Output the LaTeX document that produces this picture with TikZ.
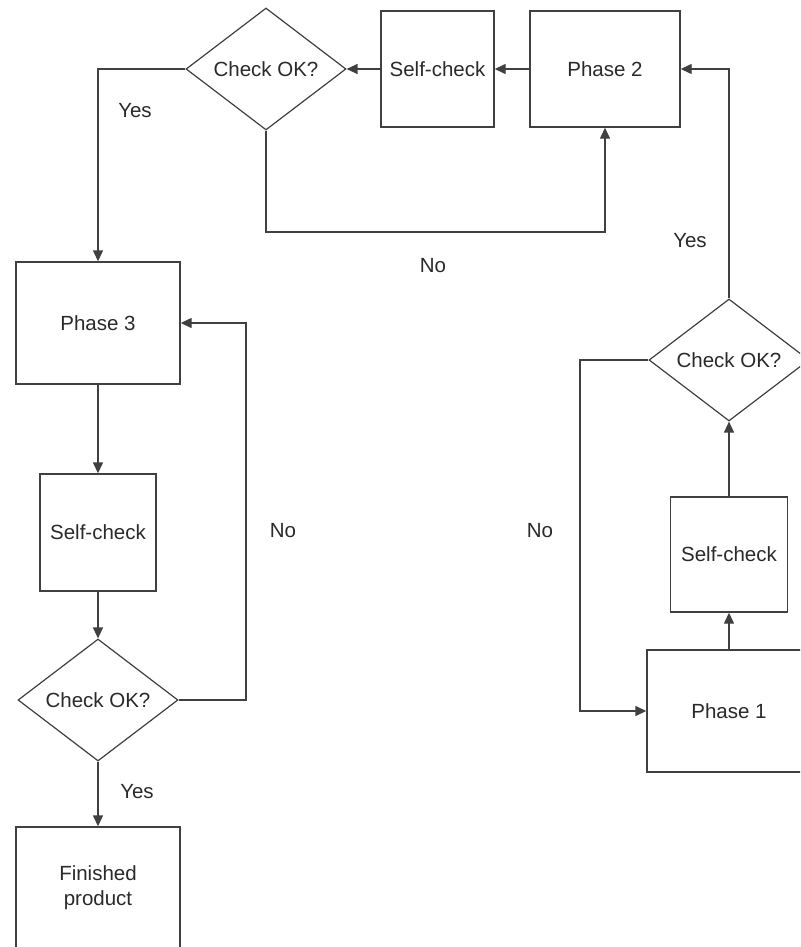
\documentclass[tikz,border=0pt]{standalone}
\usepackage{fontspec}
\setmainfont{Liberation Sans}
\usetikzlibrary{shapes.geometric,arrows.meta}
\definecolor{ln}{HTML}{404040}
\definecolor{tx}{HTML}{2A2A2A}
\tikzset{
  box/.style={draw=ln, line width=1.4pt, rectangle, inner sep=0pt, align=center, text=tx, font=\fontsize{20.5}{25}\selectfont},
  dia/.style={draw=ln, line width=1.2pt, diamond, inner sep=0pt, minimum width=160pt, minimum height=122pt, text=tx, font=\fontsize{20.5}{25}\selectfont},
  conn/.style={draw=ln, line width=1.4pt, -{Triangle[length=11pt,width=10pt]}},
  lbl/.style={text=tx, font=\fontsize{20.5}{25}\selectfont},
}
\begin{document}
\begin{tikzpicture}[x=1pt,y=-1pt]
\useasboundingbox (0,0) rectangle (800,947);
\clip (0,0) rectangle (800,947);
\fill[white] (0,0) rectangle (800,947);
% top row
\node[dia] (d1) at (266,69) {Check OK?};
\node[box, minimum width=113pt, minimum height=116pt] (sc1) at (437.5,69) {Self-check};
\node[box, minimum width=150pt, minimum height=116pt] (p2) at (605,69) {Phase 2};
% left column
\node[box, minimum width=164pt, minimum height=122pt] (p3) at (98,323) {Phase 3};
\node[box, minimum width=116pt, minimum height=117pt] (sc3) at (98,532.5) {Self-check};
\node[dia] (d3) at (98,700) {Check OK?};
\node[box, minimum width=164pt, minimum height=122pt] (fp) at (98,888) {Finished\\product};
% right column
\node[dia] (d2) at (729,360) {Check OK?};
\node[box, minimum width=117pt, minimum height=115pt] (sc2) at (729,554.5) {Self-check};
\node[box, minimum width=164pt, minimum height=122pt] (p1) at (729,711) {Phase 1};
% coordinates for bends
\coordinate (b1) at (266,232);
\coordinate (b2) at (605,232);
\coordinate (b3) at (246,700);
\coordinate (b4) at (246,323);
\coordinate (b5) at (580,360);
\coordinate (b6) at (580,711);
\coordinate (b7) at (729,69);
% connectors
\draw[conn] (p2.west) -- (sc1.east);
\draw[conn] (sc1.west) -- (d1.east);
\draw[conn] (d1.west) -| (p3.north);
\draw[conn] (d1.south) -- (b1) -- (b2) -- (p2.south);
\draw[conn] (p3.south) -- (sc3.north);
\draw[conn] (sc3.south) -- (d3.north);
\draw[conn] (d3.east) -- (b3) -- (b4) -- (p3.east);
\draw[conn] (d3.south) -- (fp.north);
\draw[conn] (p1.north) -- (sc2.south);
\draw[conn] (sc2.north) -- (d2.south);
\draw[conn] (d2.north) -- (b7) -- (p2.east);
\draw[conn] (d2.west) -- (b5) -- (b6) -- (p1.west);
% labels
\node[lbl] (l1) at (135,111) {Yes};
\node[lbl] (l2) at (433,266) {No};
\node[lbl] (l3) at (283,531) {No};
\node[lbl] (l4) at (137,792) {Yes};
\node[lbl] (l5) at (690,241) {Yes};
\node[lbl] (l6) at (540,531) {No};
\end{tikzpicture}
\end{document}
